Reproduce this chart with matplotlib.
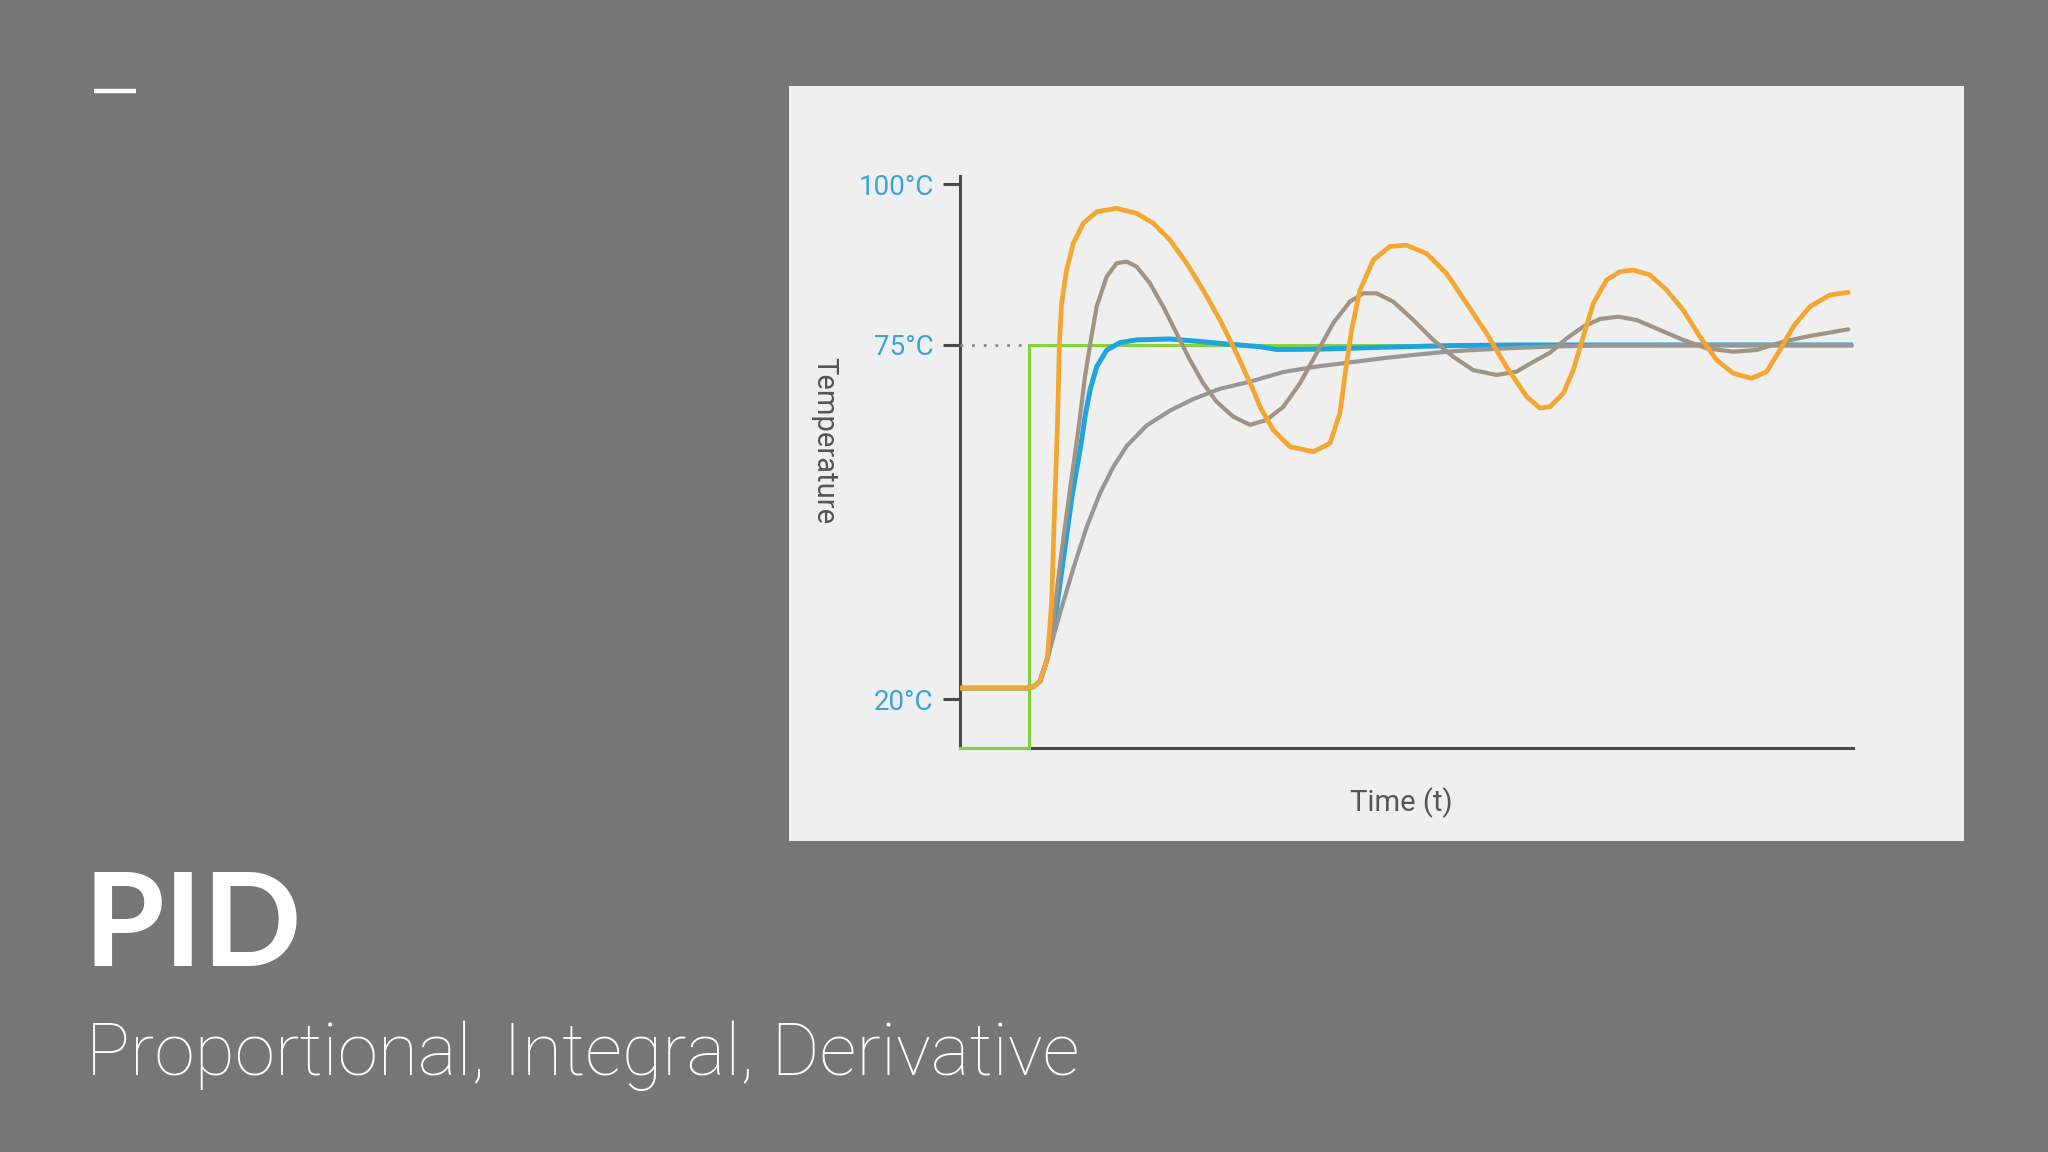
import numpy as np
import matplotlib
matplotlib.use("Agg")
import matplotlib.pyplot as plt
from matplotlib.patches import Rectangle
from matplotlib.lines import Line2D

# ---------------- data ----------------
# time axis: arbitrary units 0..100 ; temperature in °C
setpoint = 75
step_time = 7.76

# Orange: strongly underdamped response
orange_t = [0, 7.46, 8.2, 8.96, 9.78, 10.26, 10.6, 10.9, 11.01, 11.12, 11.38, 11.94,
            12.69, 13.81, 15.3, 17.54, 19.78, 21.65, 23.51, 25.38, 27.24, 29.11, 30.97,
            32.84, 33.59, 35.08, 36.95, 39.56, 41.43, 42.54, 43.29, 43.85, 44.78, 46.28,
            48.14, 50.0, 52.25, 54.49, 56.7, 58.96, 61.2, 63.44, 64.93, 66.07, 67.56,
            68.68, 69.8, 70.92, 72.41, 73.9, 75.4, 77.26, 79.13, 81.0, 82.86, 84.73,
            86.6, 88.64, 90.33, 91.81, 93.31, 95.17, 97.41, 99.46]
orange_T = [21.7, 21.7, 21.9, 22.75, 26.26, 35.0, 50.0, 62.0, 68.0, 75.0, 81.5, 86.65,
            90.8, 93.9, 95.7, 96.23, 95.45, 93.9, 91.3, 87.7, 83.5, 78.9, 73.7,
            68.0, 65.4, 61.8, 59.2, 58.43, 59.72, 64.4, 72.15, 77.33, 83.5, 88.2,
            90.3, 90.5, 89.2, 86.1, 81.5, 76.8, 71.6, 67.0, 65.2, 65.4, 67.49,
            71.1, 76.3, 81.47, 85.1, 86.39, 86.65, 85.87, 83.54, 80.4, 76.3, 72.67,
            70.6, 69.82, 70.85, 74.22, 77.85, 80.95, 82.77, 83.18]

# Tan: moderately underdamped response
tan_t = [0, 7.46, 8.2, 8.96, 9.78, 10.45, 11.19, 12.31, 13.25, 14.0, 14.56, 15.3,
         16.42, 17.54, 18.66, 19.78, 21.27, 22.76, 24.26, 25.75, 27.24, 28.73, 30.6,
         32.47, 34.34, 36.2, 38.07, 39.93, 41.8, 43.66, 45.16, 46.65, 48.52, 50.75,
         53.0, 55.23, 57.47, 60.08, 62.32, 64.56, 66.07, 67.94, 69.8, 71.67, 73.72,
         75.77, 78.38, 81.0, 83.6, 86.59, 89.2, 92.19, 95.17, 99.46]
tan_T = [21.7, 21.7, 21.9, 22.75, 26.26, 32.1, 40.9, 52.5, 61.8, 70.1, 75.0, 80.95,
         85.6, 87.7, 87.95, 87.17, 84.58, 80.95, 76.8, 72.67, 69.04, 66.2, 63.86,
         62.6, 63.35, 65.4, 69.04, 73.7, 78.4, 81.73, 83.03, 83.03, 81.73, 78.9,
         75.78, 73.19, 71.1, 70.34, 70.86, 72.67, 73.8, 76.03, 77.85, 79.04, 79.4,
         78.88, 77.33, 75.78, 74.48, 73.96, 74.22, 75.52, 76.4, 77.43]

# Blue: well tuned PID response
blue_t = [0, 7.46, 8.2, 8.96, 9.78, 10.6, 11.4, 12.6, 13.6, 14.0, 14.56, 15.3, 16.42,
          17.91, 19.78, 23.51, 27.24, 29.85, 33.59, 35.46, 39.93, 47.4, 54.86, 62.0, 99.9]
blue_T = [21.7, 21.7, 21.9, 22.75, 26.26, 32.0, 40.0, 52.0, 60.0, 63.9, 68.0, 71.6, 74.2,
          75.36, 75.8, 75.93, 75.5, 75.15, 74.74, 74.3, 74.35, 74.65, 74.9, 75.0, 75.0]

# Gray: overdamped response
gray_t = [0, 7.46, 8.2, 8.96, 9.78, 11.19, 12.69, 14.18, 15.67, 17.16, 18.66, 20.9,
          23.51, 26.12, 29.11, 32.47, 36.2, 39.93, 43.66, 47.4, 51.1, 54.86, 58.6,
          62.32, 66.05, 72.0, 80.0, 99.9]
gray_T = [21.7, 21.7, 21.9, 22.75, 26.26, 33.3, 40.3, 46.7, 51.96, 56.05, 59.3, 62.5,
          64.8, 66.6, 68.2, 69.3, 70.8, 71.65, 72.3, 72.95, 73.5, 74.0, 74.3,
          74.55, 74.75, 74.95, 75.0, 75.0]

ytick_vals = [20, 75, 100]
ytick_labels = ["20°C", "75°C", "100°C"]

title = "PID"
subtitle = "Proportional, Integral, Derivative"
ylabel = "Temperature"
xlabel = "Time (t)"

# ---------------- figure ----------------
W, H = 2048, 1152
fig = plt.figure(figsize=(W / 100, H / 100), dpi=100, facecolor="#767676")


def fx(px):
    return px / W


def fy(py):
    return 1 - py / H


# light panel holding the chart
fig.add_artist(Rectangle((fx(789), fy(841)), fx(1964) - fx(789), fy(86) - fy(841),
                         transform=fig.transFigure, facecolor="#efeff0",
                         edgecolor="none", zorder=0))
# small white dash at top-left
fig.add_artist(Line2D([fx(94), fx(136)], [fy(91), fy(91)], color="white", lw=3.2,
                      solid_capstyle="butt", transform=fig.transFigure))

ax = fig.add_axes([fx(960), fy(748), fx(1853) - fx(960), fy(176) - fy(748)])
ax.set_facecolor("none")
ymin, ymax = 12.4, 101.25
ax.set_xlim(0, 100)
ax.set_ylim(ymin, ymax)
for s in ["top", "right"]:
    ax.spines[s].set_visible(False)
for s in ["left", "bottom"]:
    ax.spines[s].set_color("#4a4a4a")
    ax.spines[s].set_linewidth(2.2)
    ax.spines[s].set_zorder(1)
ax.set_xticks([])
ax.set_yticks(ytick_vals)
ax.set_yticklabels(ytick_labels, fontfamily="Roboto")
ax.tick_params(axis="y", length=12, width=2.2, color="#4a4a4a", pad=7,
               labelsize=20, labelcolor="#3aa3dc")

# set-point (green step) and dotted guide
ax.plot([0, step_time, step_time, 99.9], [ymin, ymin, setpoint, setpoint],
        color="#86d23a", lw=2.2, zorder=2, clip_on=False, solid_joinstyle="miter")
ax.plot([0, step_time], [setpoint, setpoint], color="#8a8a8a", lw=2,
        linestyle=(0, (1, 3.2)), zorder=2)

style = dict(solid_joinstyle="round", solid_capstyle="round")
ax.plot(blue_t, blue_T, color="#1ea5df", lw=3.6, zorder=3, **style)
ax.plot(gray_t, gray_T, color="#979797", lw=3.0, zorder=4, **style)
ax.plot(tan_t, tan_T, color="#a29483", lw=3.0, zorder=5, **style)
ax.plot(orange_t, orange_T, color="#f3a630", lw=3.4, zorder=6, **style)

fig.text(fx(824), fy(441), ylabel, rotation=270, ha="center", va="center",
         fontsize=21, color="#555555", fontfamily="Roboto")
fig.text(fx(1401), fy(803), xlabel, ha="center", va="center",
         fontsize=21, color="#555555", fontfamily="Roboto")

fig.text(fx(84), fy(966), title, ha="left", va="baseline", fontsize=94,
         fontweight="bold", color="white", fontfamily="Lato")
sub = fig.text(fx(86), fy(1075), subtitle, ha="left", va="baseline", fontsize=50,
               fontweight="light", color="white", fontfamily="Roboto")
# fit subtitle to its width in the reference (~994 px)
renderer = fig.canvas.get_renderer()
wpx = sub.get_window_extent(renderer).width
sub.set_fontsize(50 * 994 / wpx)

fig.savefig("out.png", dpi=100, facecolor=fig.get_facecolor())
